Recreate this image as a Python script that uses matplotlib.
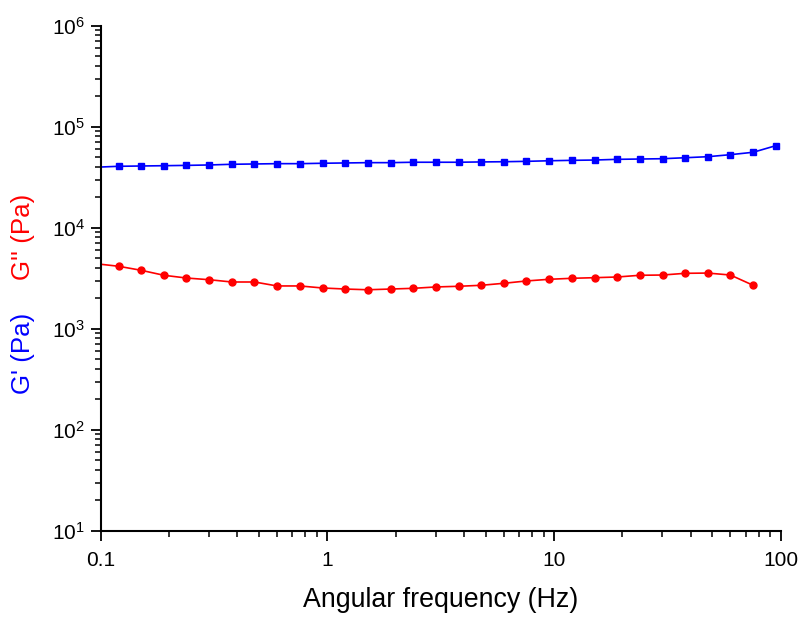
import numpy as np
import matplotlib
matplotlib.use("Agg")
import matplotlib.pyplot as plt
from matplotlib.ticker import FixedLocator, FixedFormatter, LogLocator, NullFormatter

plt.rcParams['font.family'] = ['Liberation Sans', 'DejaVu Sans']

# Angular frequency sweep (Hz)
freq = [0.0952, 0.12, 0.151, 0.19, 0.239, 0.301, 0.379, 0.477, 0.60, 0.756, 0.952,
        1.2, 1.51, 1.9, 2.39, 3.01, 3.79, 4.77, 6.0, 7.56, 9.52,
        12.0, 15.1, 19.0, 23.9, 30.1, 37.9, 47.7, 60.0, 75.6, 95.2]

# Storage modulus G' (Pa)
g_storage = [39700, 40550, 40830, 41100, 41400, 41800, 42450, 42750, 43060, 43060, 43450,
             43750, 44060, 44060, 44470, 44470, 44470, 44780, 45000, 45400, 46000,
             46450, 46770, 47530, 47860, 48200, 49300, 50470, 52850, 55820, 64900]

# Loss modulus G'' (Pa)
g_loss = [4400, 4150, 3785, 3380, 3175, 3055, 2900, 2900, 2650, 2650, 2530,
          2470, 2430, 2470, 2510, 2590, 2630, 2690, 2815, 2970, 3085,
          3155, 3200, 3250, 3380, 3400, 3535, 3555, 3400, 2690]

x_ticks = [0.1, 1, 10, 100]
x_ticklabels = ['0.1', '1', '10', '100']
y_ticks = [1e1, 1e2, 1e3, 1e4, 1e5, 1e6]
y_ticklabels = [r'$\mathregular{10^{%d}}$' % e for e in range(1, 7)]

fig = plt.figure(figsize=(8.03, 6.17), dpi=100)
ax = fig.add_axes([100.7 / 803, 1 - 530.7 / 617, (780.7 - 100.7) / 803, (530.7 - 25.7) / 617])

ax.plot(freq, g_storage, color='#0000ff', lw=1.2, marker='s', ms=4.6,
        mec='#0000ff', mfc='#0000ff', markevery=list(range(1, len(freq))))
ax.plot(freq[:len(g_loss)], g_loss, color='#ff0000', lw=1.2, marker='o', ms=5.0,
        mec='#ff0000', mfc='#ff0000', markevery=list(range(1, len(g_loss))))

ax.set_xscale('log')
ax.set_yscale('log')
ax.set_xlim(0.1, 100)
ax.set_ylim(1e1, 1e6)

ax.xaxis.set_major_locator(FixedLocator(x_ticks))
ax.xaxis.set_major_formatter(FixedFormatter(x_ticklabels))
ax.yaxis.set_major_locator(FixedLocator(y_ticks))
ax.yaxis.set_major_formatter(FixedFormatter(y_ticklabels))
ax.xaxis.set_minor_locator(LogLocator(base=10, subs=np.arange(2, 10)))
ax.yaxis.set_minor_locator(LogLocator(base=10, subs=np.arange(2, 10)))
ax.xaxis.set_minor_formatter(NullFormatter())
ax.yaxis.set_minor_formatter(NullFormatter())

for s in ('top', 'right'):
    ax.spines[s].set_visible(False)
for s in ('left', 'bottom'):
    ax.spines[s].set_linewidth(1.5)

ax.tick_params(which='major', direction='out', length=7.3, width=1.3, labelsize=15)
ax.tick_params(which='minor', direction='out', length=4.3, width=1.1)
ax.tick_params(axis='x', which='major', pad=7.5)
ax.tick_params(axis='y', which='major', pad=4.0)

# Axis titles
fig.text(440.7 / 803, 1 - 607 / 617, 'Angular frequency (Hz)', fontsize=19.3,
         ha='center', va='baseline')
fig.text(23 / 803, 1 - 353 / 617, "G' (Pa)", color='#0000ff', fontsize=18.6,
         rotation=90, ha='center', va='center')
fig.text(23 / 803, 1 - 236.5 / 617, "G'' (Pa)", color='#ff0000', fontsize=18.6,
         rotation=90, ha='center', va='center')

fig.savefig('out.png', dpi=100)
